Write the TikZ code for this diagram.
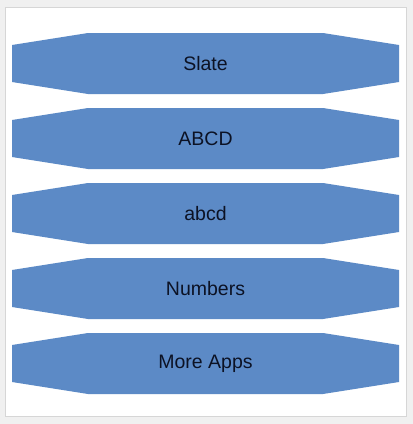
\documentclass[tikz,border=0pt]{standalone}
\usepackage{fontspec}
\setmainfont{Liberation Sans}
\definecolor{bannerblue}{RGB}{92,138,198}
\definecolor{outergray}{RGB}{240,240,240}
\definecolor{panelline}{RGB}{214,214,214}
\definecolor{textnavy}{RGB}{12,18,36}
\begin{document}
\begin{tikzpicture}[x=1pt,y=-1pt,
  banner/.style={fill=bannerblue},
  bannertext/.style={font=\fontsize{19.5}{22}\selectfont, text=textnavy, inner sep=0pt}]
\fill[outergray] (0,0) rectangle (413,424);
\filldraw[fill=white, draw=panelline, line width=0.8pt] (5.5,7.5) rectangle (406.5,416.5);
\foreach \n/\t [count=\i] in {slate/Slate, abcu/ABCD, abcl/abcd, numbers/Numbers, more/More Apps}
{
  \pgfmathsetmacro\cy{63.5+75*(\i-1)}
  \fill[banner] (12,\cy-18.5) -- (88,\cy-30.5) -- (323,\cy-30.5) -- (399,\cy-18.5)
     -- (399,\cy+18.5) -- (323,\cy+30.5) -- (88,\cy+30.5) -- (12,\cy+18.5) -- cycle;
  \node[bannertext] (\n) at (205.5,\cy+0.5) {\t};
}
\end{tikzpicture}
\end{document}
